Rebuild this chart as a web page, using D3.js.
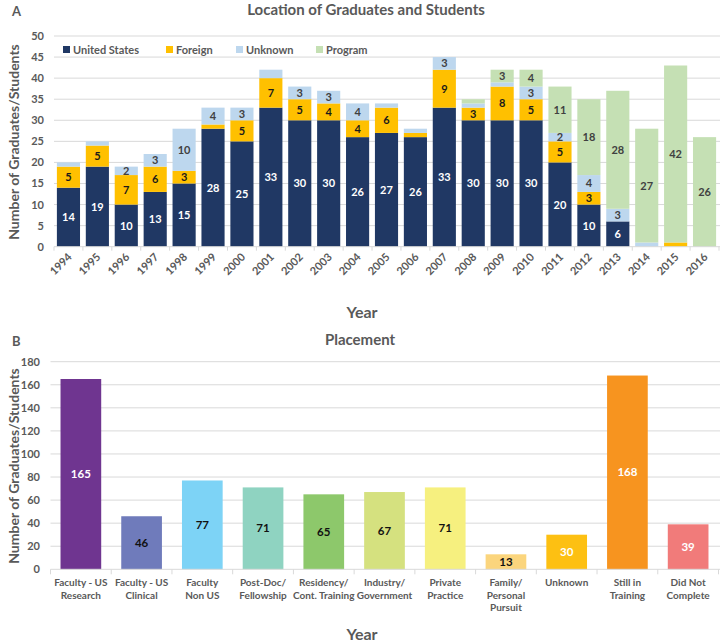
<!DOCTYPE html>
<html><head><meta charset="utf-8">
<script src="https://cdn.jsdelivr.net/npm/d3@7"></script>
<style>
body{margin:0;background:#fff;}
text{font-family:Lato,"Open Sans",sans-serif;}
</style></head>
<body><svg id="c" width="722" height="642"></svg>
<script>
// ---- Chart A data ----
const years = ["1994","1995","1996","1997","1998","1999","2000","2001","2002","2003","2004","2005","2006","2007","2008","2009","2010","2011","2012","2013","2014","2015","2016"];
const unitedStates = [14,19,10,13,15,28,25,33,30,30,26,27,26,33,30,30,30,20,10,6,0,0,0];
const foreign      = [5,5,7,6,3,1,5,7,5,4,4,6,1,9,3,8,5,5,3,0,0,1,0];
const unknown      = [1,1,2,3,10,4,3,2,3,3,4,1,1,3,1,1,3,2,4,3,1,0,0];
const program      = [0,0,0,0,0,0,0,0,0,0,0,0,0,0,1,3,4,11,18,28,27,42,26];
const seriesNames = ["United States","Foreign","Unknown","Program"];
const seriesColors = ["#203864","#FFC000","#BDD7EE","#C5E0B4"];
const labelColors = ["#ffffff","#1a1a1a","#404040","#404040"];
const hiddenLabels = ["Unknown|2001"];
const yTicksA = [0,5,10,15,20,25,30,35,40,45,50];

// ---- Chart B data ----
const placements = [["Faculty - US","Research"],["Faculty - US","Clinical"],["Faculty","Non US"],["Post-Doc/","Fellowship"],["Residency/","Cont. Training"],["Industry/","Government"],["Private","Practice"],["Family/","Personal","Pursuit"],["Unknown"],["Still in","Training"],["Did Not","Complete"]];
const placementValues = [165,46,77,71,65,67,71,13,30,168,39];
const placementColors = ["#6F3590","#6F7BBB","#7DD3F6","#8FD3C1","#8DC86B","#D5E17F","#F6F07F","#FBD57D","#FDC012","#F7941F","#F17B7A"];
const placementLabelColors = ["#fff","#111","#111","#111","#111","#111","#111","#111","#fff","#fff","#fff"];
const yTicksB = [0,20,40,60,80,100,120,140,160,180];

const svg = d3.select("#c");
const grey = "#595959";
const gridC = "#D9D9D9";

// ================= Chart A =================
const xA = d3.scaleBand().domain(years).range([54,719]).paddingInner(0.2).paddingOuter(0.1);
const yA = d3.scaleLinear().domain([0,50]).range([246.7,36]);

svg.append("text").attr("x",12).attr("y",16).attr("font-size",13).attr("font-weight","bold").attr("fill",grey).text("A");
svg.append("text").attr("x",366).attr("y",15).attr("text-anchor","middle").attr("font-size",15).attr("font-weight","bold").attr("fill",grey).text("Location of Graduates and Students");

const gA = svg.append("g");
gA.selectAll("line.grid").data(yTicksA.slice(1)).join("line")
  .attr("x1",54).attr("x2",720).attr("y1",d=>yA(d)).attr("y2",d=>yA(d))
  .attr("stroke",gridC).attr("stroke-width",1);

const tableA = years.map((y,i)=>({year:y,"United States":unitedStates[i],"Foreign":foreign[i],"Unknown":unknown[i],"Program":program[i]}));
const stackA = d3.stack().keys(seriesNames)(tableA);
stackA.forEach((s,si)=>{
  const g = gA.append("g");
  g.selectAll("rect").data(s).join("rect")
    .attr("x",d=>xA(d.data.year)).attr("width",xA.bandwidth())
    .attr("y",d=>yA(d[1])).attr("height",d=>yA(d[0])-yA(d[1]))
    .attr("fill",seriesColors[si]);
  g.selectAll("text").data(s.filter(d=>d[1]-d[0]>=2 && !hiddenLabels.includes(s.key+"|"+d.data.year))).join("text")
    .attr("x",d=>xA(d.data.year)+xA.bandwidth()/2)
    .attr("y",d=>(yA(d[0])+yA(d[1]))/2+4)
    .attr("text-anchor","middle").attr("font-size",11).attr("font-weight","bold")
    .attr("fill",labelColors[si]).text(d=>d[1]-d[0]);
});

// axis A
const axA = svg.append("g");
axA.append("line").attr("x1",54).attr("x2",720).attr("y1",yA(0)).attr("y2",yA(0)).attr("stroke",gridC);
const stepA = xA.step();
axA.selectAll("line.tk").data(d3.range(years.length+1)).join("line")
  .attr("x1",i=>xA(years[0])-stepA*0.1+i*stepA).attr("x2",i=>xA(years[0])-stepA*0.1+i*stepA)
  .attr("y1",yA(0)).attr("y2",yA(0)+4).attr("stroke",gridC);
axA.selectAll("text.yt").data(yTicksA).join("text")
  .attr("x",44).attr("y",d=>yA(d)+4).attr("text-anchor","end").attr("font-size",11).attr("font-weight","bold").attr("fill",grey).text(d=>d);
axA.selectAll("text.xt").data(years).join("text")
  .attr("transform",d=>`translate(${xA(d)+xA.bandwidth()/2+4},${yA(0)+11}) rotate(-45)`)
  .attr("text-anchor","end").attr("font-size",11).attr("font-weight","bold").attr("fill",grey).text(d=>d);
svg.append("text").attr("x",362).attr("y",318).attr("text-anchor","middle").attr("font-size",16).attr("font-weight","bold").attr("fill",grey).text("Year");
svg.append("text").attr("transform","translate(19,142) rotate(-90)").attr("text-anchor","middle").attr("font-size",14).attr("font-weight","bold").attr("fill",grey).text("Number of Graduates/Students");

// legend A
const legX = [63,166,236,316];
seriesNames.forEach((n,i)=>{
  svg.append("rect").attr("x",legX[i]).attr("y",46).attr("width",7).attr("height",7).attr("fill",seriesColors[i]);
  svg.append("text").attr("x",legX[i]+10).attr("y",54).attr("font-size",11).attr("font-weight","bold").attr("fill",grey).text(n);
});

// ================= Chart B =================
const xB = d3.scaleBand().domain(d3.range(placements.length)).range([50.5,718.5]).paddingInner(0.33).paddingOuter(0.165);
const yB = d3.scaleLinear().domain([0,180]).range([569.3,361.7]);

svg.append("text").attr("x",12).attr("y",346).attr("font-size",13).attr("font-weight","bold").attr("fill",grey).text("B");
svg.append("text").attr("x",360).attr("y",345).attr("text-anchor","middle").attr("font-size",15).attr("font-weight","bold").attr("fill",grey).text("Placement");

const gB = svg.append("g");
gB.selectAll("line.grid").data(yTicksB.slice(1)).join("line")
  .attr("x1",50.5).attr("x2",720).attr("y1",d=>yB(d)).attr("y2",d=>yB(d))
  .attr("stroke",gridC);
gB.selectAll("rect").data(placementValues).join("rect")
  .attr("x",(d,i)=>xB(i)).attr("width",xB.bandwidth())
  .attr("y",d=>yB(d)).attr("height",d=>yB(0)-yB(d))
  .attr("fill",(d,i)=>placementColors[i]);
gB.selectAll("text.v").data(placementValues).join("text")
  .attr("x",(d,i)=>xB(i)+xB.bandwidth()/2).attr("y",d=>(yB(0)+yB(d))/2+4)
  .attr("text-anchor","middle").attr("font-size",11.5).attr("font-weight","bold")
  .attr("fill",(d,i)=>placementLabelColors[i]).text(d=>d);

const axB = svg.append("g");
axB.append("line").attr("x1",50.5).attr("x2",720).attr("y1",yB(0)).attr("y2",yB(0)).attr("stroke",gridC);
const stepB = xB.step();
axB.selectAll("line.tk").data(d3.range(placements.length+1)).join("line")
  .attr("x1",i=>50.5+i*stepB).attr("x2",i=>50.5+i*stepB)
  .attr("y1",yB(0)).attr("y2",yB(0)+5).attr("stroke",gridC);
axB.selectAll("text.yt").data(yTicksB).join("text")
  .attr("x",40).attr("y",d=>yB(d)+4).attr("text-anchor","end").attr("font-size",11).attr("font-weight","bold").attr("fill",grey).text(d=>d);
placements.forEach((lines,i)=>{
  const t = axB.append("text").attr("text-anchor","middle").attr("font-size",10).attr("font-weight","bold").attr("fill",grey);
  lines.forEach((ln,j)=>{
    t.append("tspan").attr("x",xB(i)+xB.bandwidth()/2).attr("y",586+j*12.5).text(ln);
  });
});
svg.append("text").attr("x",362).attr("y",640).attr("text-anchor","middle").attr("font-size",16).attr("font-weight","bold").attr("fill",grey).text("Year");
svg.append("text").attr("transform","translate(19,466) rotate(-90)").attr("text-anchor","middle").attr("font-size",14).attr("font-weight","bold").attr("fill",grey).text("Number of Graduates/Students");
</script></body></html>
